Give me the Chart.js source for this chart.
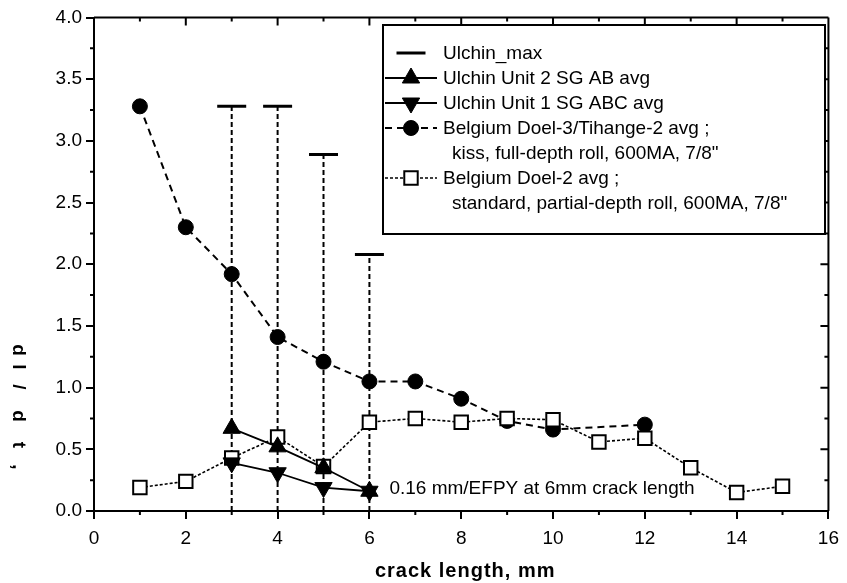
<!DOCTYPE html>
<html>
<head>
<meta charset="utf-8">
<style>
  html, body { margin: 0; padding: 0; background: #fff; }
  canvas { display: block; }
</style>
<script src="https://cdn.jsdelivr.net/npm/chart.js"></script>
</head>
<body>
<canvas id="crackChart" width="847" height="583"></canvas>
<script>
// values
const ulchinX = [3, 4, 5, 6];
const ulchinMax = [3.28, 3.28, 2.89, 2.08];
const unit2Avg = [0.67, 0.52, 0.35, 0.16];
const unit1Avg = [0.39, 0.31, 0.19, 0.16];

const doel3X = [1, 2, 3, 4, 5, 6, 7, 8, 9, 10, 12];
const doel3Avg = [3.28, 2.30, 1.92, 1.41, 1.21, 1.05, 1.05, 0.91, 0.73, 0.66, 0.70];

const doel2X = [1, 2, 3, 4, 5, 6, 7, 8, 9, 10, 11, 12, 13, 14, 15];
const doel2Avg = [0.19, 0.24, 0.43, 0.60, 0.36, 0.72, 0.75, 0.72, 0.75, 0.74, 0.56, 0.59, 0.35, 0.15, 0.20];

const legendText = [
    ['Ulchin_max'],
    ['Ulchin Unit 2 SG AB avg'],
    ['Ulchin Unit 1 SG ABC avg'],
    ['Belgium Doel-3/Tihange-2 avg ;', 'kiss, full-depth roll, 600MA, 7/8"'],
    ['Belgium Doel-2 avg ;', 'standard, partial-depth roll, 600MA, 7/8"']
];
const noteText = '0.16 mm/EFPY at 6mm crack length';
const xTitle = 'crack length, mm';
const yTitleChars = ['d', 'l', '/', 'd', 't', ','];

const FONT = "'Liberation Sans', Arial, sans-serif";
const pts = (xs, ys) => xs.map((x, i) => ({ x: x, y: ys[i] }));

// dashed verticals from the axis up to each Ulchin max
const maxLines = [];
ulchinX.forEach((x, i) => {
    maxLines.push({ x: x, y: 0 }, { x: x, y: ulchinMax[i] }, { x: x, y: null });
});

// frame, minor ticks, inside ticks on top/right, titles, note, legend
const decor = {
    id: 'decor',
    afterDatasetsDraw(chart) {
        const ctx = chart.ctx;
        const xs = chart.scales.x, ys = chart.scales.y;
        const a = chart.chartArea;
        ctx.save();
        ctx.strokeStyle = '#000';
        ctx.lineWidth = 2;
        ctx.setLineDash([]);
        ctx.beginPath();
        ctx.moveTo(a.left, a.top); ctx.lineTo(a.right, a.top);
        ctx.moveTo(a.right, a.top); ctx.lineTo(a.right, a.bottom);
        // x ticks
        for (let i = 1; i < 16; i++) {
            const px = xs.getPixelForValue(i);
            const len = i % 2 === 0 ? 8 : 4;
            ctx.moveTo(px, a.top); ctx.lineTo(px, a.top + len);
            if (i % 2) { ctx.moveTo(px, a.bottom); ctx.lineTo(px, a.bottom + 4); }
        }
        // y ticks
        for (let i = 1; i < 16; i++) {
            const py = ys.getPixelForValue(i * 0.25);
            const len = i % 2 === 0 ? 8 : 4;
            ctx.moveTo(a.right, py); ctx.lineTo(a.right - len, py);
            if (i % 2) { ctx.moveTo(a.left - 4, py); ctx.lineTo(a.left, py); }
        }
        ctx.stroke();

        // note at 6 mm
        ctx.fillStyle = '#000';
        ctx.font = '19px ' + FONT;
        ctx.textBaseline = 'middle';
        ctx.textAlign = 'left';
        ctx.fillText(noteText, xs.getPixelForValue(6) + 20, ys.getPixelForValue(0.18));

        // axis titles
        ctx.font = 'bold 20px ' + FONT;
        ctx.textAlign = 'center';
        ctx.textBaseline = 'alphabetic';
        ctx.letterSpacing = '1px';
        ctx.fillText(xTitle, (a.left + a.right) / 2 + 4, 577);
        ctx.letterSpacing = '0px';
        ctx.font = 'bold 19px ' + FONT;
        const yOff = [0, 17, 37, 66, 95, 117];
        yTitleChars.forEach((c, i) => {
            ctx.save();
            ctx.translate(13, 350 + yOff[i]);
            ctx.rotate(Math.PI / 2);
            ctx.textBaseline = 'alphabetic';
            ctx.fillText(c, 0, 0);
            ctx.restore();
        });

        // legend box
        ctx.fillStyle = '#fff';
        ctx.fillRect(383, 25, 442, 209);
        ctx.strokeRect(383, 25, 442, 209);
        let rowY = 53;
        chart.data.datasets.forEach((ds, i) => {
            if (!legendText[i]) return;
            const cx = 411;
            if (ds.showLine !== false) {
                ctx.setLineDash(ds.borderDash || []);
                ctx.lineWidth = ds.borderWidth;
                ctx.strokeStyle = ds.borderColor;
                ctx.beginPath();
                ctx.moveTo(385, rowY); ctx.lineTo(437, rowY);
                ctx.stroke();
            }
            ctx.setLineDash([]);
            ctx.fillStyle = ds.pointBackgroundColor;
            ctx.strokeStyle = ds.pointBorderColor;
            ctx.lineWidth = ds.pointBorderWidth;
            Chart.helpers.drawPoint(ctx, {
                pointStyle: ds.pointStyle,
                radius: ds.pointRadius,
                rotation: ds.pointRotation || 0,
                borderWidth: ds.pointBorderWidth
            }, cx, rowY);
            ctx.fillStyle = '#000';
            ctx.font = '19px ' + FONT;
            ctx.textAlign = 'left';
            ctx.textBaseline = 'middle';
            legendText[i].forEach((t, k) => {
                ctx.fillText(t, k === 0 ? 443 : 452, rowY + 1);
                rowY += 25;
            });
        });
        ctx.restore();
    }
};

new Chart(document.getElementById('crackChart').getContext('2d'), {
    type: 'line',
    data: {
        datasets: [
            {
                label: 'Ulchin_max',
                data: pts(ulchinX, ulchinMax),
                showLine: false,
                pointStyle: 'line',
                pointRadius: 14.5,
                pointBorderWidth: 3,
                pointBorderColor: '#000',
                pointBackgroundColor: '#000',
                order: 4
            },
            {
                label: 'Ulchin Unit 2 SG AB avg',
                data: pts(ulchinX, unit2Avg),
                borderColor: '#000',
                borderWidth: 1.8,
                pointStyle: 'triangle',
                pointRadius: 10,
                pointBorderWidth: 1,
                pointBorderColor: '#000',
                pointBackgroundColor: '#000',
                order: 0
            },
            {
                label: 'Ulchin Unit 1 SG ABC avg',
                data: pts(ulchinX, unit1Avg),
                borderColor: '#000',
                borderWidth: 1.8,
                pointStyle: 'triangle',
                pointRotation: 180,
                pointRadius: 10,
                pointBorderWidth: 1,
                pointBorderColor: '#000',
                pointBackgroundColor: '#000',
                order: 1
            },
            {
                label: 'Belgium Doel-3/Tihange-2 avg',
                data: pts(doel3X, doel3Avg),
                borderColor: '#000',
                borderWidth: 2,
                borderDash: [7, 5],
                pointStyle: 'circle',
                pointRadius: 7.5,
                pointBorderWidth: 1,
                pointBorderColor: '#000',
                pointBackgroundColor: '#000',
                order: 3
            },
            {
                label: 'Belgium Doel-2 avg',
                data: pts(doel2X, doel2Avg),
                borderColor: '#000',
                borderWidth: 1.6,
                borderDash: [3, 2],
                pointStyle: 'rect',
                pointRadius: 9.5,
                pointBorderWidth: 2,
                pointBorderColor: '#000',
                pointBackgroundColor: '#fff',
                order: 2
            },
            {
                label: 'max lines',
                data: maxLines,
                borderColor: '#000',
                borderWidth: 2,
                borderDash: [5, 3],
                pointRadius: 0,
                spanGaps: false,
                order: 5
            }
        ]
    },
    options: {
        responsive: false,
        animation: false,
        devicePixelRatio: 1,
        layout: { padding: { top: 14, right: 13, left: 0, bottom: 0 } },
        plugins: { legend: { display: false }, tooltip: { enabled: false } },
        scales: {
            x: {
                type: 'linear',
                min: 0, max: 16,
                ticks: { stepSize: 2, color: '#000', font: { size: 19, family: FONT }, padding: 8, maxRotation: 0 },
                grid: { drawOnChartArea: false, tickLength: 8, color: '#000', lineWidth: 2 },
                border: { display: true, width: 2, color: '#000' },
                afterFit: s => { s.height = 72; }
            },
            y: {
                min: 0, max: 4,
                ticks: { stepSize: 0.5, color: '#000', font: { size: 19, family: FONT }, padding: 4,
                         callback: v => v.toFixed(1) },
                grid: { drawOnChartArea: false, tickLength: 8, color: '#000', lineWidth: 2 },
                border: { display: true, width: 2, color: '#000' },
                afterFit: s => { s.width = 94; }
            }
        }
    },
    plugins: [decor]
});
</script>
</body>
</html>
